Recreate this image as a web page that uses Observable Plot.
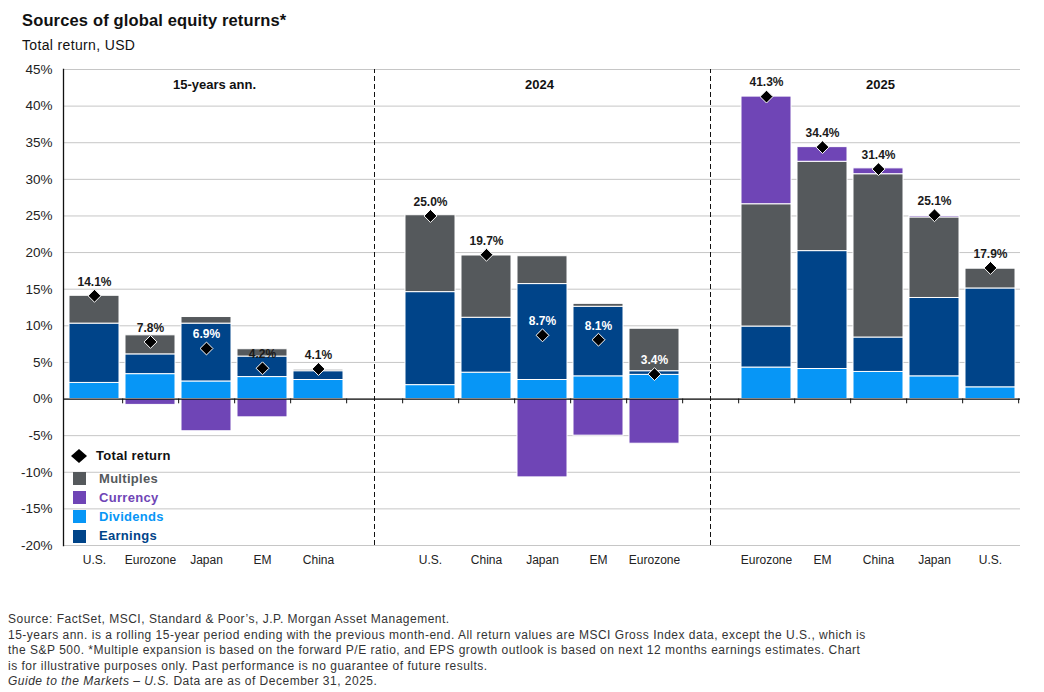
<!DOCTYPE html>
<html>
<head>
<meta charset="utf-8">
<script src="https://cdn.jsdelivr.net/npm/d3@7"></script>
<script src="https://cdn.jsdelivr.net/npm/@observablehq/plot@0.6"></script>
<style>
  html, body { margin: 0; padding: 0; background: #fff; }
  body { width: 1044px; height: 692px; position: relative; font-family: "Liberation Sans", Arial, sans-serif; color: #111; overflow: hidden; }
  #title { position: absolute; left: 22px; top: 9px; font-size: 16.5px; font-weight: bold; line-height: 22px; letter-spacing: 0.15px; white-space: nowrap; }
  #subtitle { position: absolute; left: 22px; top: 36px; font-size: 14px; line-height: 18px; letter-spacing: 0.35px; white-space: nowrap; }
  #chart { position: absolute; left: 0; top: 58px; }
  #legend { position: absolute; left: 0; top: 0; }
  .lg { position: absolute; font-size: 13px; font-weight: bold; line-height: 16px; white-space: nowrap; letter-spacing: 0.3px; }
  .sw { position: absolute; width: 13px; height: 13px; }
  #foot { position: absolute; left: 8px; top: 612px; font-size: 12px; line-height: 15.6px; color: #333; letter-spacing: 0.5px; white-space: nowrap; }
</style>
</head>
<body>
<div id="title">Sources of global equity returns*</div>
<div id="subtitle">Total return, USD</div>
<div id="chart"></div>
<div id="legend"></div>
<div id="foot">
Source: FactSet, MSCI, Standard &amp; Poor’s, J.P. Morgan Asset Management.<br>
15-years ann. is a rolling 15-year period ending with the previous month-end. All return values are MSCI Gross Index data, except the U.S., which is<br>
the S&amp;P 500. *Multiple expansion is based on the forward P/E ratio, and EPS growth outlook is based on next 12 months earnings estimates. Chart<br>
is for illustrative purposes only. Past performance is no guarantee of future results.<br>
<i>Guide to the Markets – U.S.</i> Data are as of December 31, 2025.
</div>
<script>
// ---------- data ----------
const periods = ["15-years ann.", "2024", "2025"];
const markets15 = ["U.S.", "Eurozone", "Japan", "EM", "China"];
const markets24 = ["U.S.", "China", "Japan", "EM", "Eurozone"];
const markets25 = ["Eurozone", "EM", "China", "Japan", "U.S."];

const dividends15 = [2.2, 3.4, 2.4, 3.0, 2.6];
const earnings15  = [8.1, 2.7, 7.9, 2.8, 1.2];
const multiples15 = [3.8, 2.6, 0.9, 1.0, 0.2];
const currency15  = [0.0, -0.8, -4.4, -2.5, 0.0];
const total15     = [14.1, 7.8, 6.9, 4.2, 4.1];

const dividends24 = [1.9, 3.6, 2.6, 3.1, 3.3];
const earnings24  = [12.7, 7.5, 13.1, 9.5, 0.5];
const multiples24 = [10.5, 8.5, 3.8, 0.4, 5.8];
const currency24  = [0.0, 0.0, -10.7, -5.0, -6.1];
const total24     = [25.0, 19.7, 8.7, 8.1, 3.4];

const dividends25 = [4.3, 4.1, 3.7, 3.1, 1.6];
const earnings25  = [5.6, 16.1, 4.7, 10.7, 13.5];
const multiples25 = [16.7, 12.2, 22.3, 11.0, 2.7];
const currency25  = [14.7, 2.0, 0.8, 0.2, 0.0];
const total25     = [41.3, 34.4, 31.4, 25.1, 17.9];

const components = ["Dividends", "Earnings", "Multiples", "Currency"];
const componentColors = ["#0796f6", "#004489", "#55595c", "#6f45b6"];
const yTicks = d3.range(-20, 46, 5);

// ---------- build tables ----------
const groups = [
  {period: periods[0], markets: markets15, series: [dividends15, earnings15, multiples15, currency15], total: total15},
  {period: periods[1], markets: markets24, series: [dividends24, earnings24, multiples24, currency24], total: total24},
  {period: periods[2], markets: markets25, series: [dividends25, earnings25, multiples25, currency25], total: total25}
];
const keys = [];
const gapKeys = ["gap1", "gap2"];
const rows = [];
const totals = [];
const middleKeys = [];
groups.forEach((g, gi) => {
  g.markets.forEach((m, i) => {
    const key = g.period + "|" + m;
    keys.push(key);
    let posTop = 0;
    components.forEach((c, ci) => {
      const v = g.series[ci][i];
      rows.push({key, component: c, value: v});
      if (v > 0) posTop += v;
    });
    totals.push({key, total: g.total[i], inside: posTop - g.total[i] > 3});
    if (i === 2) middleKeys.push({key, title: g.period});
  });
  if (gi < 2) keys.push(gapKeys[gi]);
});

const W = 1044, mL = 63, mR = 24;
const step = (W - mL - mR) / keys.length;
const titleDx = [8, -3, 2];

const chart = Plot.plot({
  width: W,
  height: 517,
  marginLeft: mL,
  marginRight: mR,
  marginTop: 11,
  marginBottom: 30,
  style: {fontFamily: "Liberation Sans, Arial, sans-serif", background: "white"},
  x: {domain: keys, paddingInner: 0.11, paddingOuter: 0.055, axis: null, label: null},
  y: {domain: [-20, 45], axis: null, label: null},
  color: {domain: components, range: componentColors},
  marks: [
    Plot.gridY(yTicks, {stroke: "#c6c6c6", strokeOpacity: 1, strokeWidth: 1}),
    Plot.axisY(yTicks, {tickSize: 0, tickPadding: 11, tickFormat: d => d + "%", fontSize: 13.5, fill: "#222", label: null}),
    Plot.axisX(keys, {tickSize: 0, tickPadding: 10, fontSize: 12, fill: "#222", label: null,
      tickFormat: d => d.startsWith("gap") ? "" : d.split("|")[1]}),
    Plot.barY(rows, Plot.stackY({x: "key", y: "value", fill: "component", stroke: "white", strokeWidth: 1})),
    Plot.ruleX(gapKeys, {x: d => d, y1: -20, y2: 45, stroke: "#111", strokeWidth: 1, strokeDasharray: "5,3"}),
    Plot.ruleY([0], {stroke: "#111", strokeWidth: 1.3}),
    Plot.ruleX(keys, {x: d => d, y1: 0, y2: -0.65, dx: step / 2, stroke: "#111"}),
    Plot.frame({anchor: "left", stroke: "#111", strokeWidth: 1.3}),
    Plot.dot(totals, {x: "key", y: "total", symbol: "diamond2", r: 5.8, fill: "black", stroke: "white", strokeWidth: 1}),
    Plot.text(totals, {x: "key", y: "total", text: d => d.total.toFixed(1) + "%", dy: -14,
      fontSize: 12, fontWeight: "bold", fill: d => d.inside ? "white" : "#1a1a1a"}),
    ...middleKeys.map((m, i) => Plot.text([m], {x: "key", text: "title", frameAnchor: "top", dy: 10,
      dx: titleDx[i], fontSize: 13, fontWeight: "bold", fill: "#111"}))
  ]
});
document.getElementById("chart").appendChild(chart);

// ---------- legend (HTML overlay) ----------
const legend = document.getElementById("legend");
const legendItems = ["Multiples", "Currency", "Dividends", "Earnings"];
const dia = document.createElementNS("http://www.w3.org/2000/svg", "svg");
dia.setAttribute("width", 18); dia.setAttribute("height", 14);
dia.style.position = "absolute"; dia.style.left = "70px"; dia.style.top = "448.5px";
dia.innerHTML = '<polygon points="9,0 17,7 9,14 1,7" fill="black"/>';
legend.appendChild(dia);
const tl = document.createElement("div");
tl.className = "lg"; tl.textContent = "Total return";
tl.style.left = "96px"; tl.style.top = "448px"; tl.style.color = "#111";
legend.appendChild(tl);
legendItems.forEach((name, i) => {
  const color = componentColors[components.indexOf(name)];
  const cy = 478.5 + i * 19.2;
  const sw = document.createElement("div");
  sw.className = "sw"; sw.style.background = color;
  sw.style.left = "73px"; sw.style.top = (cy - 6.5) + "px";
  legend.appendChild(sw);
  const t = document.createElement("div");
  t.className = "lg"; t.textContent = name; t.style.color = color;
  t.style.left = "99px"; t.style.top = (cy - 8) + "px";
  legend.appendChild(t);
});
</script>
</body>
</html>
